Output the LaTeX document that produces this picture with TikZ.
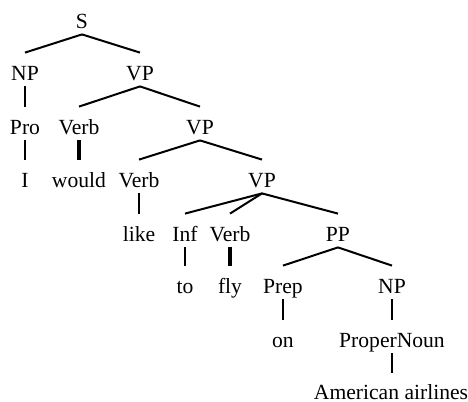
\documentclass[tikz,border=0pt]{standalone}
\usepackage{fontspec}
\setmainfont{Liberation Serif}
\usetikzlibrary{positioning}

\begin{document}
\begin{tikzpicture}[x=0.5pt,y=-0.5pt,
  cat/.style={anchor=base,inner sep=0pt,text height=13.5pt,text depth=3pt,font=\fontsize{10.8}{13}\selectfont},
  branch/.style={line width=1pt},
  lexbranch/.style={line width=1.75pt}]
\useasboundingbox (0,0) rectangle (468,402);
% categories and words, row by row (baselines)
\node[cat] (s) at (82,28) {S};
\node[cat] (np1) at (25,80) {NP};
\node[cat] (vp1) at (140,80) {VP};
\node[cat] (pro) at (25,134) {Pro};
\node[cat] (verb1) at (79,134) {Verb};
\node[cat] (vp2) at (200,134) {VP};
\node[cat] (w-i) at (25,187) {I};
\node[cat] (w-would) at (79,187) {would};
\node[cat] (verb2) at (139,187) {Verb};
\node[cat] (vp3) at (262,187) {VP};
\node[cat] (w-like) at (139,241) {like};
\node[cat] (inf) at (185,241) {Inf};
\node[cat] (verb3) at (230,241) {Verb};
\node[cat] (pp) at (338,241) {PP};
\node[cat] (w-to) at (185,293) {to};
\node[cat] (w-fly) at (230,293) {fly};
\node[cat] (prep) at (283,293) {Prep};
\node[cat] (np2) at (392,293) {NP};
\node[cat] (w-on) at (283,347) {on};
\node[cat] (pnoun) at (392,347) {ProperNoun};
\node[cat] (w-aa) at (391,400) {American airlines};
% branches
\foreach \p/\c in {s/np1,s/vp1,vp1/verb1,vp1/vp2,vp2/verb2,vp2/vp3,vp3/inf,vp3/verb3,vp3/pp,pp/prep,pp/np2,np2/pnoun}
  \draw[branch] (\p.south) -- (\c.north);
\foreach \p/\c in {np1/pro,pro/w-i,verb2/w-like,inf/w-to,prep/w-on}
  \draw[branch] (\p.south) -- (\c.north);
\draw[branch] (pnoun.south) -- (pnoun.south |- w-aa.north);
\foreach \p/\c in {verb1/w-would,verb3/w-fly}
  \draw[lexbranch] (\p.south) -- (\c.north);
\end{tikzpicture}
\end{document}
